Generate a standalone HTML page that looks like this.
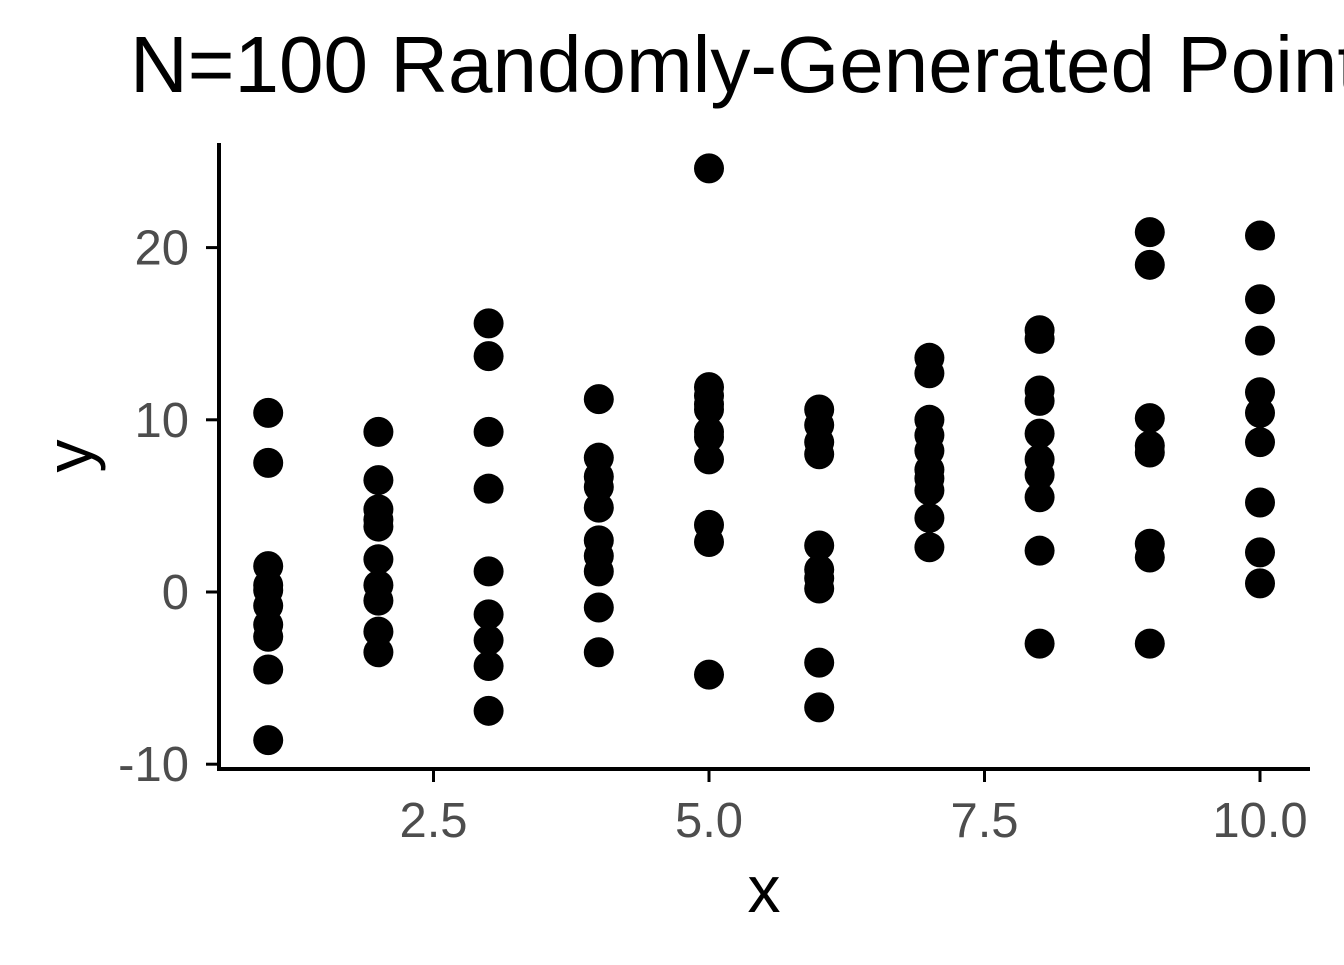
<!DOCTYPE html>
<html><head><meta charset="utf-8"><style>
html,body{margin:0;padding:0;background:#fff;overflow:hidden}
svg text{font-family:"Liberation Sans",Arial,sans-serif}
</style></head><body>
<svg id="chart" width="1344" height="960" viewBox="0 0 1344 960">
<text x="130" y="92" font-size="80" fill="#000">N=100 Randomly-Generated Points</text>
<g id="points"></g>
<g id="axes"></g>
</svg>
<script>
const xCategories=[1,2,3,4,5,6,7,8,9,10];
const yValues=[
[10.4,7.5,1.5,0.4,0.1,-0.8,-1.9,-2.6,-4.5,-8.6],
[9.3,6.5,4.8,4.2,3.8,1.9,0.4,-0.5,-2.3,-3.5],
[15.6,13.7,9.3,6.0,1.2,-1.3,-2.8,-4.3,-6.9],
[11.2,7.8,6.7,6.1,4.9,3.0,2.1,1.2,-0.9,-3.5],
[24.6,11.9,11.4,10.9,10.6,9.3,9.0,7.7,3.9,2.9,-4.8],
[10.6,9.7,8.7,8.0,2.7,1.3,0.8,0.2,-4.1,-6.7],
[13.6,12.7,10.0,9.1,8.2,7.1,6.6,5.9,4.3,2.6],
[15.2,14.7,11.7,11.1,9.2,7.7,6.8,5.5,2.4,-3.0],
[20.9,19.0,10.1,8.5,8.1,2.8,2.0,-3.0],
[20.7,17.0,14.6,11.6,10.4,8.7,5.2,2.3,0.5]
];
const xTicks=[2.5,5.0,7.5,10.0];
const xTickLabels=["2.5","5.0","7.5","10.0"];
const yTicks=[-10,0,10,20];
const yTickLabels=["-10","0","10","20"];

const NS="http://www.w3.org/2000/svg";
const sx=v=>709+(v-5)*110.2;
const sy=v=>592-v*17.22;
function mk(tag,attrs,parent,text){const e=document.createElementNS(NS,tag);for(const k in attrs)e.setAttribute(k,attrs[k]);if(text!==undefined)e.textContent=text;parent.appendChild(e);return e;}
const pts=document.getElementById('points');
xCategories.forEach((x,i)=>{yValues[i].forEach(y=>{
  const c=mk('circle',{cx:sx(x),cy:sy(y),r:15,fill:'#000'},pts);
  
  
});});
const ax=document.getElementById('axes');
const yl=mk('line',{x1:219,y1:143,x2:219,y2:770,stroke:'#000','stroke-width':4},ax);


const xl=mk('line',{x1:217,y1:769,x2:1310,y2:769,stroke:'#000','stroke-width':4},ax);


yTicks.forEach((v,i)=>{
  const t=mk('line',{x1:206,y1:sy(v),x2:219,y2:sy(v),stroke:'#000','stroke-width':3},ax);
  
  
  const l=mk('text',{x:189,y:sy(v)+17,'font-size':49,fill:'#4d4d4d','text-anchor':'end'},ax,yTickLabels[i]);
  
  
});
xTicks.forEach((v,i)=>{
  const t=mk('line',{x1:sx(v),y1:769,x2:sx(v),y2:782,stroke:'#000','stroke-width':3},ax);
  
  
  const l=mk('text',{x:sx(v),y:837,'font-size':49,fill:'#4d4d4d','text-anchor':'middle'},ax,xTickLabels[i]);
  
  
});
const xt=mk('text',{x:764,y:912,'font-size':66,fill:'#000','text-anchor':'middle'},ax,'x');


const yt=mk('text',{x:0,y:0,'font-size':66,fill:'#000','text-anchor':'middle',transform:'translate(92,456) rotate(-90)'},ax,'y');


</script>
</body></html>
